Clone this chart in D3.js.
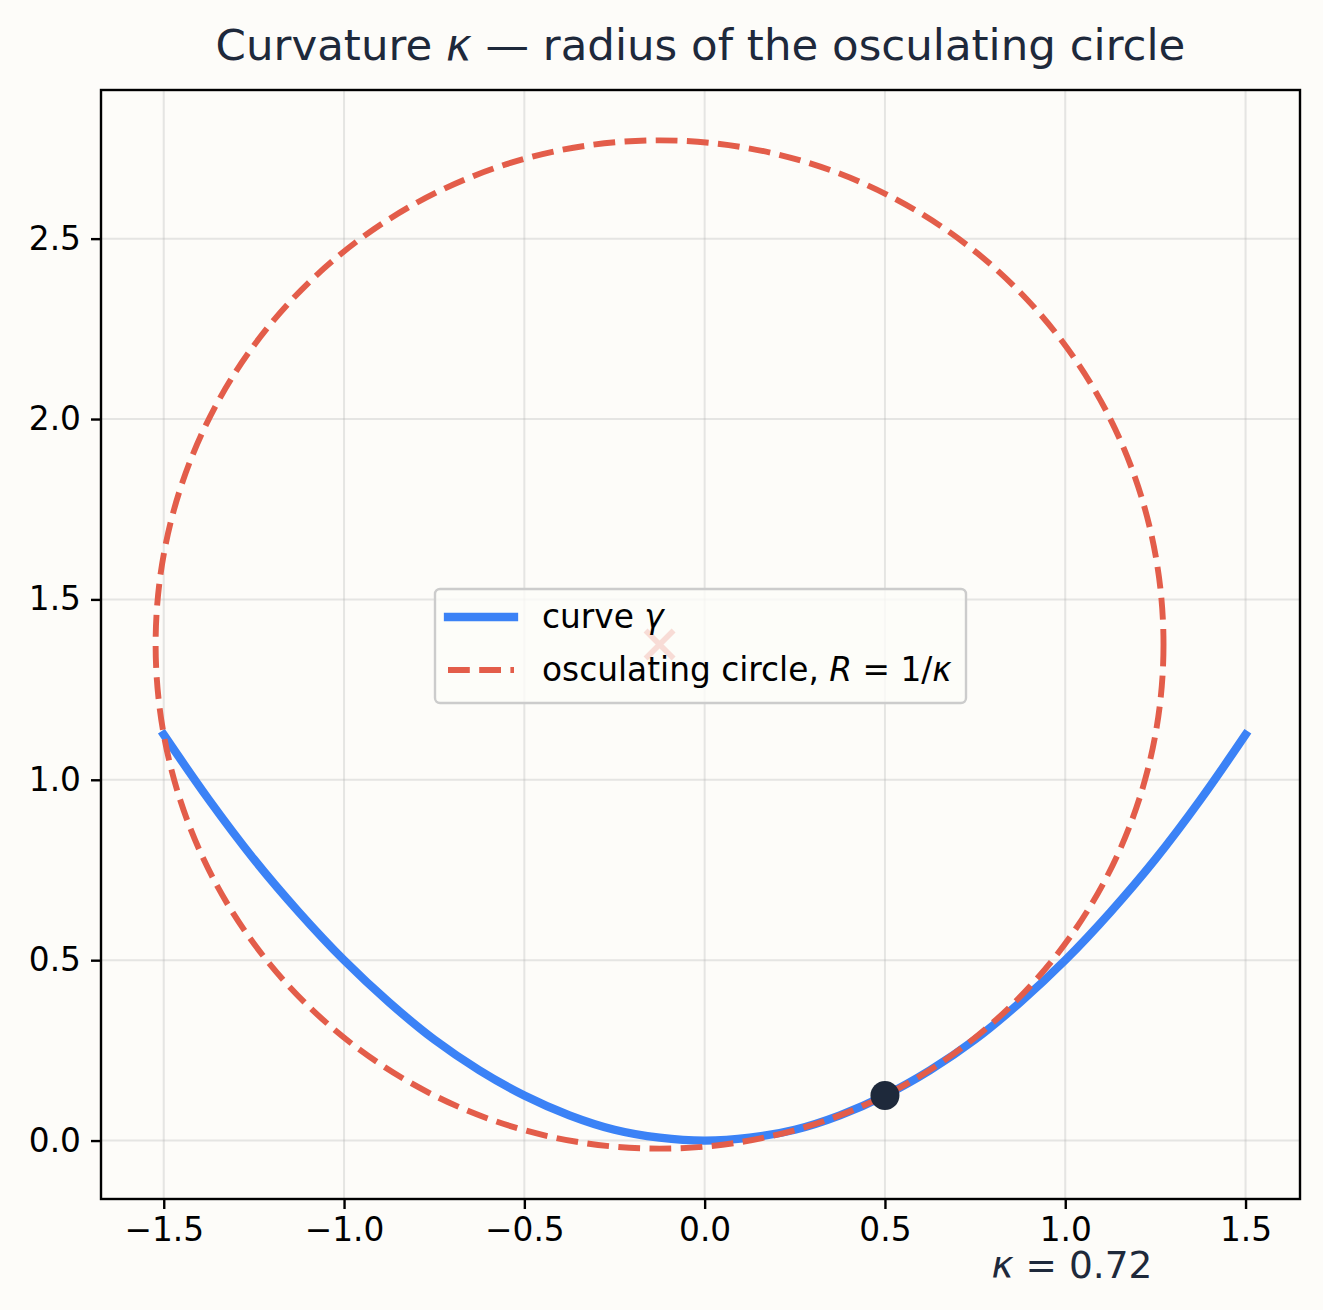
<!DOCTYPE html>
<html>
<head>
<meta charset="utf-8">
<script src="https://cdn.jsdelivr.net/npm/d3@7"></script>
<style>
  html, body { margin: 0; padding: 0; background: #fdfcf9; }
  svg { display: block; font-family: "DejaVu Sans", sans-serif; }
</style>
</head>
<body>
<script>
// curve gamma
const curveX = [-1.5, -1.375, -1.25, -1.125, -1.0, -0.875, -0.75, -0.625, -0.5, -0.375, -0.25, -0.125, 0.0,
                0.125, 0.25, 0.375, 0.5, 0.625, 0.75, 0.875, 1.0, 1.125, 1.25, 1.375, 1.5]
const curveY = [1.125, 0.945, 0.78, 0.633, 0.5, 0.383, 0.28, 0.195, 0.125, 0.07, 0.03, 0.008, 0.0,
                0.008, 0.03, 0.07, 0.125, 0.195, 0.28, 0.383, 0.5, 0.633, 0.78, 0.945, 1.125]

// osculating circle
const circleCenter = [-0.125, 1.375]
const circleRadius = 1.3975
const touchPoint = [0.5, 0.125]
const kappa = 0.72

const xTicks = [-1.5, -1.0, -0.5, 0.0, 0.5, 1.0, 1.5]
const yTicks = [0.0, 0.5, 1.0, 1.5, 2.0, 2.5]

const W = 1323, H = 1310
const m = { left: 101, right: 1300, top: 90, bottom: 1199 }

const blue = "#3b82f6", red = "#e35d4a", ink = "#1e293b", bg = "#fdfcf9"
const tickFont = 32.8

let canvas = d3.select("body")
                .append("svg")
                .attr("width", W)
                .attr("height", H)

canvas.append("rect")
      .attr("width", W).attr("height", H)
      .attr("fill", bg)

const x = d3.scaleLinear().domain([-1.674, 1.651]).range([m.left, m.right])
const y = d3.scaleLinear().domain([-0.162, 2.912]).range([m.bottom, m.top])

// grid
const gGrid = canvas.append("g")
               .attr("stroke", "#b0b0b0")
               .attr("stroke-opacity", 0.3)
               .attr("stroke-width", 2)
gGrid.selectAll("line.vx").data(xTicks).join("line")
     .attr("x1", d => x(d)).attr("x2", d => x(d))
     .attr("y1", m.top).attr("y2", m.bottom)
gGrid.selectAll("line.hy").data(yTicks).join("line")
     .attr("x1", m.left).attr("x2", m.right)
     .attr("y1", d => y(d)).attr("y2", d => y(d))

canvas.append("clipPath").attr("id", "plotclip")
      .append("rect")
      .attr("x", m.left).attr("y", m.top)
      .attr("width", m.right - m.left).attr("height", m.bottom - m.top)

const gPlot = canvas.append("g").attr("clip-path", "url(#plotclip)")

const line = d3.line()
               .x(d => x(d[0]))
               .y(d => y(d[1]))
               .curve(d3.curveCatmullRom)

gPlot.append("path")
     .datum(d3.zip(curveX, curveY))
     .attr("d", line)
     .attr("fill", "none")
     .attr("stroke", blue)
     .attr("stroke-width", 8.3)
     .attr("stroke-linecap", "square")

gPlot.append("ellipse")
     .attr("cx", x(circleCenter[0]))
     .attr("cy", y(circleCenter[1]))
     .attr("rx", x(circleCenter[0] + circleRadius) - x(circleCenter[0]))
     .attr("ry", y(circleCenter[1]) - y(circleCenter[1] + circleRadius))
     .attr("fill", "none")
     .attr("stroke", red)
     .attr("stroke-width", 5.9)
     .attr("stroke-dasharray", "21.8 9.4")

// centre marker
const cx = x(circleCenter[0]), cy = y(circleCenter[1]), s = 14
gPlot.append("path")
     .attr("d", `M${cx - s},${cy - s}L${cx + s},${cy + s}M${cx - s},${cy + s}L${cx + s},${cy - s}`)
     .attr("stroke", red)
     .attr("stroke-width", 5.5)

gPlot.append("circle")
     .attr("cx", x(touchPoint[0]))
     .attr("cy", y(touchPoint[1]))
     .attr("r", 14.5)
     .attr("fill", ink)

// spines
canvas.append("rect")
      .attr("x", m.left).attr("y", m.top)
      .attr("width", m.right - m.left).attr("height", m.bottom - m.top)
      .attr("fill", "none")
      .attr("stroke", "#000")
      .attr("stroke-width", 2.4)

// axes
const fmt = d => d < 0 ? "\u2212" + d3.format(".1f")(-d) : d3.format(".1f")(d)
const xAxis = canvas.append("g")
                    .attr("transform", `translate(0,${m.bottom})`)
                    .call(d3.axisBottom(x).tickValues(xTicks).tickFormat(fmt).tickSize(10).tickPadding(9))
const yAxis = canvas.append("g")
                    .attr("transform", `translate(${m.left},0)`)
                    .call(d3.axisLeft(y).tickValues(yTicks).tickFormat(fmt).tickSize(10).tickPadding(10))
for (const a of [xAxis, yAxis]) {
  a.select(".domain").remove()
  a.selectAll(".tick line").attr("stroke", "#000").attr("stroke-width", 2.4)
  a.selectAll(".tick text")
   .attr("fill", "#000")
   .attr("font-size", tickFont)
   .attr("font-family", "DejaVu Sans")
}

// title
canvas.append("text")
      .attr("x", (m.left + m.right) / 2)
      .attr("y", 60)
      .attr("text-anchor", "middle")
      .attr("font-size", 43.5)
      .attr("fill", ink)
      .call(t => {
        t.append("tspan").text("Curvature ")
        t.append("tspan").attr("font-style", "italic").text("\u03ba")
        t.append("tspan").text(" \u2014 radius of the osculating circle")
      })

// kappa readout
canvas.append("text")
      .attr("x", 1072)
      .attr("y", 1278)
      .attr("text-anchor", "middle")
      .attr("font-size", 37.5)
      .attr("fill", ink)
      .call(t => {
        t.append("tspan").attr("font-style", "italic").text("\u03ba")
        t.append("tspan").text(" = " + kappa.toFixed(2))
      })

// legend
const gLegend = canvas.append("g")
gLegend.append("rect")
       .attr("x", 435).attr("y", 589)
       .attr("width", 531).attr("height", 114)
       .attr("rx", 5)
       .attr("fill", bg)
       .attr("fill-opacity", 0.8)
       .attr("stroke", "#cccccc")
       .attr("stroke-width", 2.4)

gLegend.append("line")
       .attr("x1", 448).attr("x2", 514)
       .attr("y1", 617).attr("y2", 617)
       .attr("stroke", blue).attr("stroke-width", 8.3)
       .attr("stroke-linecap", "square")
gLegend.append("line")
       .attr("x1", 448).attr("x2", 514)
       .attr("y1", 670).attr("y2", 670)
       .attr("stroke", red).attr("stroke-width", 5.9)
       .attr("stroke-dasharray", "21.8 9.4")

gLegend.append("text")
       .attr("x", 542).attr("y", 628)
       .attr("font-size", tickFont).attr("fill", "#000")
       .call(t => {
         t.append("tspan").text("curve ")
         t.append("tspan").attr("font-style", "italic").text("\u03b3")
       })
gLegend.append("text")
       .attr("x", 542).attr("y", 681)
       .attr("font-size", tickFont).attr("fill", "#000")
       .call(t => {
         t.append("tspan").text("osculating circle, ")
         t.append("tspan").attr("font-style", "italic").text("R")
         t.append("tspan").text(" = 1/")
         t.append("tspan").attr("font-style", "italic").text("\u03ba")
       })
</script>
</body>
</html>
